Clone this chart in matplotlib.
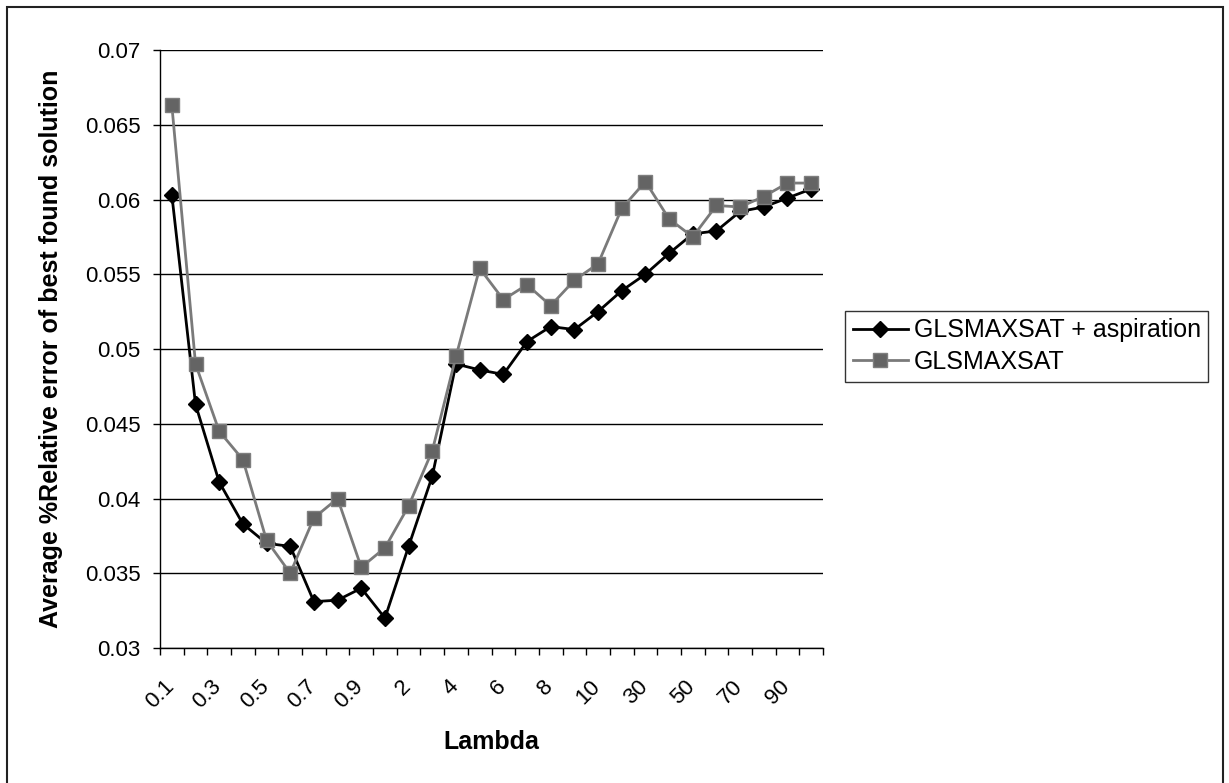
import matplotlib
matplotlib.use('agg')
import matplotlib.pyplot as plt
import matplotlib.transforms as mtransforms
from matplotlib.patches import Rectangle

plt.rcParams.update({
    "font.family": ["Liberation Sans", "DejaVu Sans"],
    "font.size": 16})

# lambda values on the x axis (categorical)
lambdas = ["0.1", "0.2", "0.3", "0.4", "0.5", "0.6", "0.7", "0.8", "0.9",
           "1", "2", "3", "4", "5", "6", "7", "8", "9",
           "10", "20", "30", "40", "50", "60", "70", "80", "90", "100"]

gls_aspiration = [0.0603, 0.0463, 0.0411, 0.0383, 0.0370, 0.0368, 0.0331, 0.0332,
                  0.0340, 0.0320, 0.0368, 0.0415, 0.0490, 0.0486, 0.0483, 0.0505,
                  0.0515, 0.0513, 0.0525, 0.0539, 0.0550, 0.0564, 0.0577, 0.0579,
                  0.0592, 0.0595, 0.0601, 0.0607]
gls = [0.0663, 0.0490, 0.0445, 0.0426, 0.0372, 0.0350, 0.0387, 0.0400,
       0.0354, 0.0367, 0.0395, 0.0432, 0.0495, 0.0554, 0.0533, 0.0543,
       0.0529, 0.0546, 0.0557, 0.0594, 0.0612, 0.0587, 0.0575, 0.0596,
       0.0595, 0.0602, 0.0611, 0.0611]

yticks = [0.03, 0.035, 0.04, 0.045, 0.05, 0.055, 0.06, 0.065, 0.07]
ytick_labels = ["0.03", "0.035", "0.04", "0.045", "0.05", "0.055", "0.06", "0.065", "0.07"]

W, H = 1229, 783
fig = plt.figure(figsize=(W / 100, H / 100), dpi=100)
ax = fig.add_axes([160 / W, 1 - 648 / H, 663 / W, 598 / H])

x = list(range(len(lambdas)))
ax.plot(x, gls_aspiration, color="black", lw=2, marker="D", ms=8,
        mfc="black", mec="black", label="GLSMAXSAT + aspiration", zorder=3)
ax.plot(x, gls, color="#7a7a7a", lw=2, marker="s", ms=9.5,
        mfc="#646464", mec="#7e7e7e", mew=1, label="GLSMAXSAT", zorder=4)

ax.set_xlim(-0.5, len(lambdas) - 0.5)
ax.set_ylim(0.03, 0.07)
ax.set_yticks(yticks)
ax.set_yticklabels(ytick_labels)
ax.yaxis.grid(True, color="black", lw=1)
ax.set_axisbelow(True)

# tick marks between categories, labels on every other category
ax.set_xticks([i - 0.5 for i in range(len(lambdas) + 1)], minor=True)
ax.set_xticks(x[::2])
ax.set_xticklabels(lambdas[::2], rotation=45, ha="right", va="top",
                   rotation_mode="anchor")
ax.tick_params(axis="x", which="major", length=0, pad=20)
ax.tick_params(axis="x", which="minor", length=5, width=1, direction="out")
ax.tick_params(axis="y", length=5, width=1, direction="out", pad=9, labelsize=16)
shift = mtransforms.ScaledTranslation(-6 / 72, 0, fig.dpi_scale_trans)
for lbl in ax.get_xticklabels():
    lbl.set_transform(lbl.get_transform() + shift)

for s in ["top", "right"]:
    ax.spines[s].set_visible(False)
for s in ["left", "bottom"]:
    ax.spines[s].set_color("black")
    ax.spines[s].set_linewidth(1)

ax.set_xlabel("Lambda", fontsize=18, fontweight="bold")
ax.xaxis.set_label_coords(0.5, -0.137)
ax.set_ylabel("Average %Relative error of best found solution", fontsize=18,
              fontweight="bold")
ax.yaxis.set_label_coords(-0.146, 0.5)

leg = fig.legend(loc="upper left", bbox_to_anchor=(845 / W, 1 - 311 / H),
                 fontsize=18, frameon=True, fancybox=False, borderpad=0.3,
                 handlelength=2.2, handletextpad=0.25, labelspacing=0.3,
                 borderaxespad=0)
leg.get_frame().set_edgecolor("black")
leg.get_frame().set_linewidth(1)

# outer border round the chart
fig.patches.append(Rectangle((7 / W, -0.01), 1216 / W, 1 - 7 / H + 0.01,
                             transform=fig.transFigure, fill=False,
                             edgecolor="#222222", lw=1.5))

plt.savefig("out.png", dpi=100)
